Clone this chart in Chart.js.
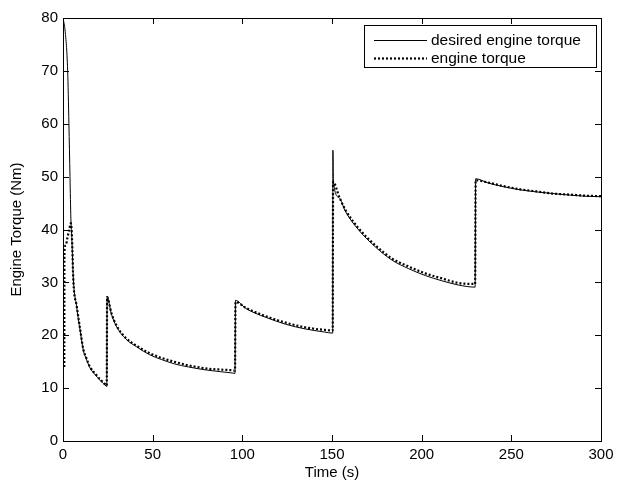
<!DOCTYPE html>
<html>
<head>
<meta charset="utf-8">
<script src="https://cdn.jsdelivr.net/npm/chart.js@4/dist/chart.umd.min.js"></script>
<style>
  html, body { margin: 0; padding: 0; background: #fff; }
  #wrap { width: 629px; height: 489px; }
</style>
</head>
<body>
<div id="wrap"><canvas id="torqueChart" width="629" height="489"></canvas></div>
<script>
// desired engine torque (solid)
const desiredTime = [0, 1.2, 2.6, 3.3, 3.9, 4.4, 4.9, 5.8, 7.6, 9.5, 11.3, 13, 15.1, 18, 20.6, 24, 24.4,
  24.6, 27, 29.9, 35, 41.1, 48.4, 55, 62, 70, 80.5, 88, 93.5, 95.9,
  96.2, 101.8, 107, 113, 124, 135, 146, 150.4,
  150.5, 150.8, 154, 157.5, 164.9, 174.2, 183.5, 192.7, 202, 211.3, 220.5, 229.8,
  230.1, 237, 245.6, 255, 264.2, 273, 282.8, 291, 300];
const desiredTorque = [80, 77.5, 70, 60, 50, 42, 38.5, 30.5, 25.4, 21, 17.2, 15.5, 13.8, 12.5, 11.5, 10.4, 10.3,
  27.3, 24, 21.6, 19.3, 17.8, 16.3, 15.4, 14.6, 14, 13.4, 13.1, 12.9, 12.8,
  26.6, 25.1, 24.2, 23.4, 22.1, 21.2, 20.6, 20.4,
  55, 49, 46, 43.4, 39.9, 36.7, 34.2, 32.6, 31.3, 30.3, 29.5, 29.1,
  49.6, 48.8, 48.1, 47.5, 47.1, 46.8, 46.5, 46.3, 46.2];

// engine torque (dotted)
const actualTime = [0.7, 0.8, 1.5, 2.5, 3.5, 4.4, 5, 5.8, 7.6, 9.5, 11.3, 13, 15.1, 18, 20.6, 24, 24.4,
  24.6, 27, 29.9, 35, 41.1, 48.4, 55, 62, 70, 80.5, 88, 93.5, 95.9,
  96.2, 101.8, 107, 113, 124, 135, 146, 150.4,
  150.6, 154, 157.5, 164.9, 174.2, 183.5, 192.7, 202, 211.3, 220.5, 229.8,
  230.1, 237, 245.6, 255, 264.2, 273, 282.8, 291, 300];
const actualTorque = [14, 35.8, 37, 38.5, 40, 41.2, 38.5, 30.1, 25.6, 21.3, 17.4, 15.7, 14, 12.7, 11.7, 10.6, 10.5,
  27.2, 24.2, 21.8, 19.5, 18, 16.6, 15.7, 15, 14.3, 13.7, 13.5, 13.4, 13.3,
  26.3, 25.2, 24.4, 23.6, 22.4, 21.5, 21, 20.9,
  49, 46.2, 43.7, 40.2, 37, 34.5, 33, 31.7, 30.75, 29.9, 29.7,
  49.3, 48.9, 48.2, 47.6, 47.2, 46.8, 46.6, 46.4, 46.3];

const xTicks = [0, 50, 100, 150, 200, 250, 300];
const yTicks = [0, 10, 20, 30, 40, 50, 60, 70, 80];
const seriesLabels = ['desired engine torque', 'engine torque'];

const FONT = '"Liberation Sans", Arial, Helvetica, sans-serif';

function toPoints(xs, ys) {
  return xs.map((x, i) => ({ x: x, y: ys[i] }));
}

// box, inward ticks on all four sides, and the boxed legend
const matlabFrame = {
  id: 'matlabFrame',
  afterDraw(chart) {
    const ctx = chart.ctx;
    const a = chart.chartArea;
    const xs = chart.scales.x, ys = chart.scales.y;
    const tl = 6;
    ctx.save();
    ctx.strokeStyle = '#000';
    ctx.lineWidth = 1;
    ctx.beginPath();
    xTicks.forEach(v => {
      const px = Math.round(xs.getPixelForValue(v)) + 0.5;
      ctx.moveTo(px, a.bottom); ctx.lineTo(px, a.bottom - tl);
      ctx.moveTo(px, a.top); ctx.lineTo(px, a.top + tl);
    });
    yTicks.forEach(v => {
      const py = Math.round(ys.getPixelForValue(v)) + 0.5;
      ctx.moveTo(a.left, py); ctx.lineTo(a.left + tl, py);
      ctx.moveTo(a.right, py); ctx.lineTo(a.right - tl, py);
    });
    ctx.stroke();
    ctx.strokeRect(Math.round(a.left) + 0.5, Math.round(a.top) + 0.5,
      Math.round(a.right - a.left), Math.round(a.bottom - a.top));

    // legend
    const bx = 364.5, by = 25.5, bw = 232, bh = 42;
    ctx.fillStyle = '#fff';
    ctx.fillRect(bx, by, bw, bh);
    ctx.strokeRect(bx, by, bw, bh);
    const rows = [40, 58];
    chart.data.datasets.forEach((ds, i) => {
      ctx.save();
      ctx.strokeStyle = ds.borderColor;
      ctx.lineWidth = ds.borderWidth;
      ctx.setLineDash(ds.borderDash || []);
      ctx.beginPath();
      ctx.moveTo(374, rows[i] + 0.5);
      ctx.lineTo(427, rows[i] + 0.5);
      ctx.stroke();
      ctx.restore();
      ctx.fillStyle = '#000';
      ctx.font = '15.5px ' + FONT;
      ctx.textBaseline = 'middle';
      ctx.textAlign = 'left';
      ctx.fillText(ds.label, 431, rows[i] + 1);
    });
    ctx.restore();
  }
};

new Chart(document.getElementById('torqueChart'), {
  type: 'scatter',
  data: {
    datasets: [{
      label: seriesLabels[0],
      data: toPoints(desiredTime, desiredTorque),
      showLine: true,
      borderColor: '#000',
      borderWidth: 1,
      pointRadius: 0,
      cubicInterpolationMode: 'monotone'
    }, {
      label: seriesLabels[1],
      data: toPoints(actualTime, actualTorque),
      showLine: true,
      borderColor: '#000',
      borderWidth: 2.2,
      borderDash: [2, 2],
      pointRadius: 0,
      cubicInterpolationMode: 'monotone'
    }]
  },
  options: {
    responsive: false,
    animation: false,
    devicePixelRatio: 1,
    layout: { padding: { left: 8, top: 18, right: 28, bottom: 0 } },
    plugins: {
      legend: { display: false },
      tooltip: { enabled: false }
    },
    scales: {
      x: {
        type: 'linear',
        min: 0, max: 300,
        afterBuildTicks: s => { s.ticks = xTicks.map(v => ({ value: v })); },
        afterFit: s => { s.height = 48; },
        grid: { display: false, drawTicks: false },
        border: { display: false },
        ticks: { color: '#000', font: { family: FONT, size: 15 }, padding: 5, maxRotation: 0 },
        title: { display: true, text: 'Time (s)', color: '#000', font: { family: FONT, size: 15 }, padding: { top: 0, bottom: 7 } }
      },
      y: {
        min: 0, max: 80,
        afterBuildTicks: s => { s.ticks = yTicks.map(v => ({ value: v })); },
        afterFit: s => { s.width = 55; },
        grid: { display: false, drawTicks: false },
        border: { display: false },
        ticks: { color: '#000', font: { family: FONT, size: 15 }, padding: 5 },
        title: { display: true, text: 'Engine Torque (Nm)', color: '#000', font: { family: FONT, size: 15 }, padding: { top: 0, bottom: 0 } }
      }
    }
  },
  plugins: [matlabFrame]
});
</script>
</body>
</html>
